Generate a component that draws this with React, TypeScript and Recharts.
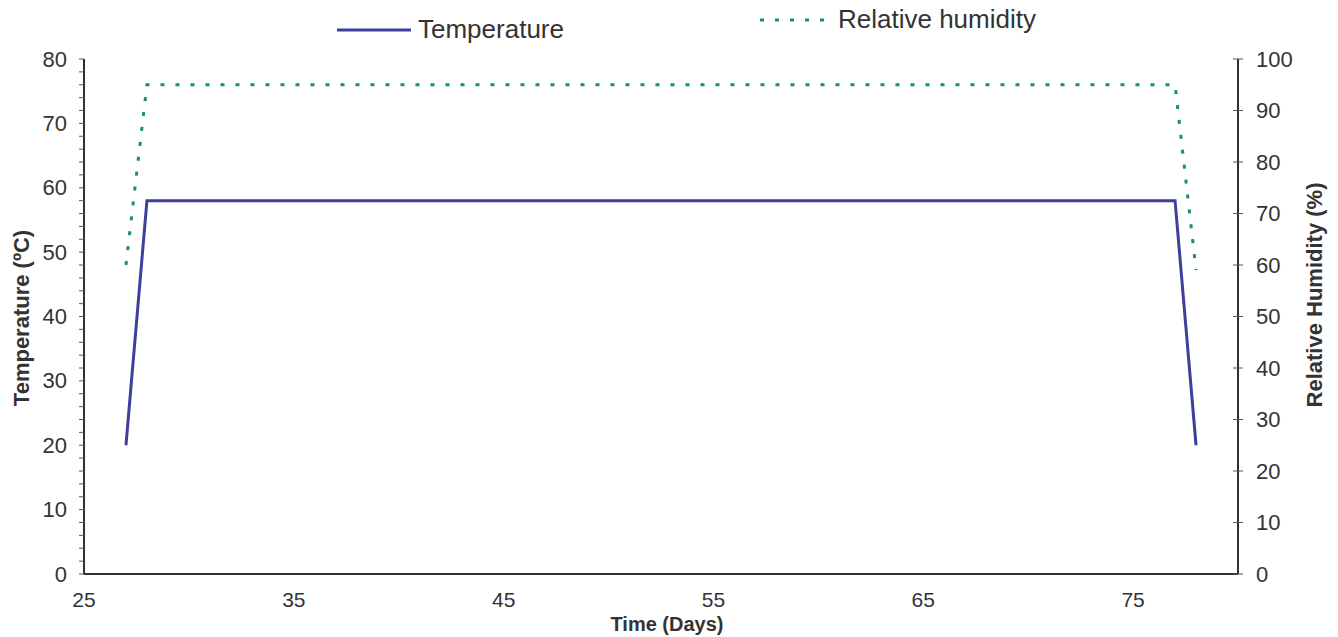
import React from 'react';
import { LineChart, Line, XAxis, YAxis, Legend, Label } from 'recharts';

const days = [27, 28, 77, 78];
const temperature = [20, 58, 58, 20];
const humidity = [60, 95, 95, 59];
const xTicks = [25, 35, 45, 55, 65, 75];
const tempTicks = [0, 2, 4, 6, 8, 10, 12, 14, 16, 18, 20, 22, 24, 26, 28, 30, 32, 34, 36, 38, 40, 42, 44, 46, 48, 50, 52, 54, 56, 58, 60, 62, 64, 66, 68, 70, 72, 74, 76, 78, 80];
const rhTicks = [0, 10, 20, 30, 40, 50, 60, 70, 80, 90, 100];

const data = days.map((d, i) => ({ day: d, temperature: temperature[i], humidity: humidity[i] }));

const FONT = '"Liberation Sans", Arial, sans-serif';
const TEMP_COLOR = '#3e3f9c';
const RH_COLOR = '#17916d';
const AXIS = '#2f2f2f';

const LeftTick = (props: any) => {
  const { x, y, payload } = props;
  const v = payload.value;
  const major = v % 10 === 0;
  return (
    <g>
      <line x1={x - 5} x2={x} y1={y} y2={y} stroke="#555" strokeWidth={1} />
      {major && (
        <text x={x - 17} y={y} textAnchor="end" dominantBaseline="central" fontSize={22} fill="#333" fontFamily={FONT}>
          {v}
        </text>
      )}
    </g>
  );
};

const RightTick = (props: any) => {
  const { x, y, payload } = props;
  return (
    <g>
      <line x1={x - 5} x2={x + 5} y1={y} y2={y} stroke="#555" strokeWidth={1} />
      <text x={x + 18} y={y} textAnchor="start" dominantBaseline="central" fontSize={22} fill="#333" fontFamily={FONT}>
        {payload.value}
      </text>
    </g>
  );
};

const BottomTick = (props: any) => {
  const { x, y, payload } = props;
  return (
    <text x={x} y={y + 25} textAnchor="middle" dominantBaseline="central" fontSize={21} fill="#333" fontFamily={FONT}>
      {payload.value}
    </text>
  );
};

const LegendContent = () => (
  <div style={{ position: 'relative', width: 1338, height: 50, fontFamily: FONT, color: '#333' }}>
    <svg width={1338} height={50} style={{ position: 'absolute', left: 0, top: 0 }}>
      <line x1={337} x2={411} y1={30} y2={30} stroke={TEMP_COLOR} strokeWidth={3} />
      <line x1={760} x2={826} y1={20} y2={20} stroke={RH_COLOR} strokeWidth={3} strokeDasharray="4 11" />
      <text x={418} y={29} dominantBaseline="central" fontSize={26} fill="#333" fontFamily={FONT}>Temperature</text>
      <text x={838} y={19} dominantBaseline="central" fontSize={26} fill="#333" fontFamily={FONT}>Relative humidity</text>
    </svg>
  </div>
);

export default function App() {
  return (
    <div style={{ position: 'absolute', left: 0, top: 0, width: 1338, height: 637, background: '#fff' }}>
      <LineChart width={1338} height={637} data={data} margin={{ top: 9, right: 0, bottom: 0, left: 0 }}>
        <XAxis
          xAxisId="x"
          dataKey="day"
          type="number"
          domain={[25, 80]}
          ticks={xTicks}
          height={63}
          tickSize={0}
          tickMargin={0}
          tickLine={false}
          axisLine={{ stroke: AXIS, strokeWidth: 2 }}
          tick={<BottomTick />}
          interval={0}
        >
          <Label
            content={(p: any) => (
              <text x={667} y={624} textAnchor="middle" dominantBaseline="central" fontSize={20} fontWeight="bold" fill="#333" fontFamily={FONT}>
                Time (Days)
              </text>
            )}
          />
        </XAxis>
        <XAxis
          xAxisId="top"
          orientation="top"
          dataKey="day"
          type="number"
          domain={[25, 80]}
          height={0}
          tick={false}
          tickLine={false}
          axisLine={{ stroke: AXIS, strokeWidth: 2 }}
        />
        <YAxis
          yAxisId="left"
          orientation="left"
          type="number"
          domain={[0, 80]}
          ticks={tempTicks}
          width={84}
          tickSize={0}
          tickMargin={0}
          tickLine={false}
          interval={0}
          axisLine={{ stroke: AXIS, strokeWidth: 2 }}
          tick={<LeftTick />}
        >
          <Label
            content={(p: any) => (
              <text
                x={21}
                y={318}
                transform="rotate(-90 21 318)"
                textAnchor="middle"
                dominantBaseline="central"
                fontSize={22}
                fontWeight="bold"
                fill="#333"
                fontFamily={FONT}
              >
                Temperature (ºC)
              </text>
            )}
          />
        </YAxis>
        <YAxis
          yAxisId="right"
          orientation="right"
          type="number"
          domain={[0, 100]}
          ticks={rhTicks}
          width={100}
          tickSize={0}
          tickMargin={0}
          tickLine={false}
          interval={0}
          axisLine={{ stroke: AXIS, strokeWidth: 2 }}
          tick={<RightTick />}
        >
          <Label
            content={(p: any) => (
              <text
                x={1314}
                y={295}
                transform="rotate(-90 1314 295)"
                textAnchor="middle"
                dominantBaseline="central"
                fontSize={22}
                fontWeight="bold"
                fill="#333"
                fontFamily={FONT}
              >
                Relative Humidity (%)
              </text>
            )}
          />
        </YAxis>
        <Legend
          verticalAlign="top"
          content={<LegendContent />}
          wrapperStyle={{ position: 'absolute', top: 0, left: 0, width: 1338, height: 50 }}
        />
        <Line
          xAxisId="x"
          yAxisId="left"
          dataKey="temperature"
          name="Temperature"
          type="linear"
          stroke={TEMP_COLOR}
          strokeWidth={3}
          dot={false}
          activeDot={false}
          isAnimationActive={false}
        />
        <Line
          xAxisId="x"
          yAxisId="right"
          dataKey="humidity"
          name="Relative humidity"
          type="linear"
          stroke={RH_COLOR}
          strokeWidth={3}
          strokeDasharray="4 11"
          dot={false}
          activeDot={false}
          isAnimationActive={false}
        />
      </LineChart>
    </div>
  );
}
